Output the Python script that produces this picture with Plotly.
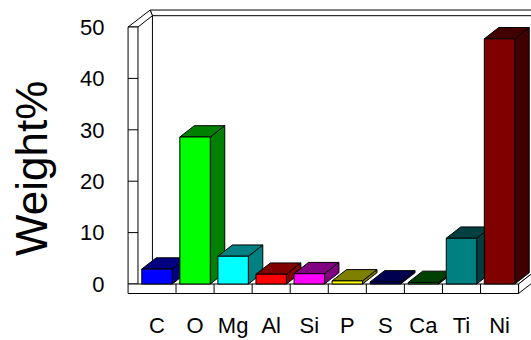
import plotly.graph_objects as go

# Element composition (weight %)
elements = ["C", "O", "Mg", "Al", "Si", "P", "S", "Ca", "Ti", "Ni"]
weight_pct = [2.9, 28.6, 5.4, 1.9, 2.0, 0.6, 0.4, 0.3, 8.9, 47.7]
y_ticks = [0, 10, 20, 30, 40, 50]

# Face colours: front face and the darker top/side faces
front_colors = ["#0000FF", "#00FF00", "#00FFFF", "#FF0000", "#FF00FF",
                "#FFFF00", "#000080", "#008000", "#008080", "#800000"]
shade_colors = ["#000080", "#008000", "#008080", "#800000", "#800080",
                "#808000", "#000050", "#004000", "#004040", "#400000"]

# Canvas and plot-area geometry
W, H = 531, 340
M_L, M_R, M_T, M_B = 120, 0, 0, 40
PX_PER_CAT = 38.06        # horizontal pixels per category
CAT0_PX = 157             # pixel position of the first category centre
PX_PER_UNIT = 5.14        # vertical pixels per weight-% unit
ZERO_PX = 284             # pixel row of the value 0

x_range = [(M_L - CAT0_PX) / PX_PER_CAT, (W - M_R - CAT0_PX) / PX_PER_CAT]
y_range = [(ZERO_PX - (H - M_B)) / PX_PER_UNIT, (ZERO_PX - M_T) / PX_PER_UNIT]

# 3-D look: bar half-width, depth offset (in axis units), wall/floor sizes
HALF_W = 0.40
DX, DY = 0.38, 2.2          # receding depth of bars and floor
ODX, ODY = 0.58, 3.3        # outer back edge of the walls
WALL_T = 0.26               # side wall thickness (category units)
FLOOR_T = 1.85              # floor slab thickness (value units)
Y_TOP = y_ticks[-1]
n = len(elements)
x_in = -0.5                 # inner face of side wall / floor start
x_out = x_in - WALL_T
x_end = n - 0.5
EDGE = dict(color="black", width=1)

shapes = []

def poly(pts, fill="white", line=EDGE):
    path = "M " + " L ".join(f"{x},{y}" for x, y in pts) + " Z"
    shapes.append(dict(type="path", path=path, xref="x", yref="y",
                       fillcolor=fill, line=line, layer="below"))

def seg(p, q):
    shapes.append(dict(type="line", x0=p[0], y0=p[1], x1=q[0], y1=q[1],
                       xref="x", yref="y", line=EDGE, layer="below"))

far_x = x_range[1] + 1
# back wall top band
poly([(x_out + ODX, Y_TOP + ODY), (far_x, Y_TOP + ODY),
      (far_x, Y_TOP + DY), (x_in + DX, Y_TOP + DY)])
# side wall top
poly([(x_out, Y_TOP), (x_out + ODX, Y_TOP + ODY),
      (x_in + DX, Y_TOP + DY), (x_in, Y_TOP)])
# back-left inner corner
seg((x_in + DX, Y_TOP + DY), (x_in + DX, DY))
# floor top surface (no back edge drawn)
poly([(x_in, 0), (x_in + DX, DY), (x_end + DX, DY), (x_end, 0)],
     line=dict(width=0))
seg((x_end, 0), (x_end + DX * 2, DY * 2))
# floor right end
poly([(x_end, -FLOOR_T), (x_end + DX * 2, -FLOOR_T + DY * 2),
      (x_end + DX * 2, DY * 2), (x_end, 0)])
# side wall front face
poly([(x_out, 0), (x_out, Y_TOP), (x_in, Y_TOP), (x_in, 0)])
# floor front face with category dividers
poly([(x_out, -FLOOR_T), (x_out, 0), (x_end, 0), (x_end, -FLOOR_T)])
for k in range(n - 1):
    seg((k + 0.5, -FLOOR_T), (k + 0.5, 0))
# value ticks across the side wall face
for t in y_ticks[1:-1]:
    seg((x_out, t), (x_in, t))

fig = go.Figure()

for i, (v, fc, sc) in enumerate(zip(weight_pct, front_colors, shade_colors)):
    xl, xr = i - HALF_W, i + HALF_W
    faces = [
        ([xr, xr + DX, xr + DX, xr, xr], [0, DY, v + DY, v, 0], sc),          # side
        ([xl, xl + DX, xr + DX, xr, xl], [v, v + DY, v + DY, v, v], sc),      # top
        ([xl, xl, xr, xr, xl], [0, v, v, 0, 0], fc),                          # front
    ]
    for fx, fy, col in faces:
        fig.add_trace(go.Scatter(
            x=fx, y=fy, mode="lines", fill="toself", fillcolor=col,
            line=dict(color="black", width=1), hoverinfo="skip",
            showlegend=False))

fig.update_layout(
    width=W, height=H,
    margin=dict(l=M_L, r=M_R, t=M_T, b=M_B, autoexpand=False),
    paper_bgcolor="white", plot_bgcolor="white",
    font=dict(family="Liberation Sans, Arial, sans-serif", color="black"),
    shapes=shapes,
    xaxis=dict(range=x_range, tickmode="array", tickvals=list(range(n)),
               ticktext=elements, showgrid=False, zeroline=False,
               showline=False, ticks="outside", ticklen=6,
               tickcolor="rgba(0,0,0,0)", tickfont=dict(size=22),
               automargin=False, fixedrange=True),
    yaxis=dict(range=y_range, tickmode="array", tickvals=y_ticks,
               showgrid=False, zeroline=False, showline=False,
               ticks="outside", ticklen=10, tickcolor="rgba(0,0,0,0)",
               tickfont=dict(size=22), automargin=False, fixedrange=True),
    annotations=[dict(text="Weight%", textangle=-90, showarrow=False,
                      xref="paper", yref="paper",
                      x=(31 - M_L) / (W - M_L - M_R),
                      y=1 - (169 - M_T) / (H - M_T - M_B),
                      xanchor="center", yanchor="middle",
                      font=dict(size=44))],
)

fig.write_html("out.html")
